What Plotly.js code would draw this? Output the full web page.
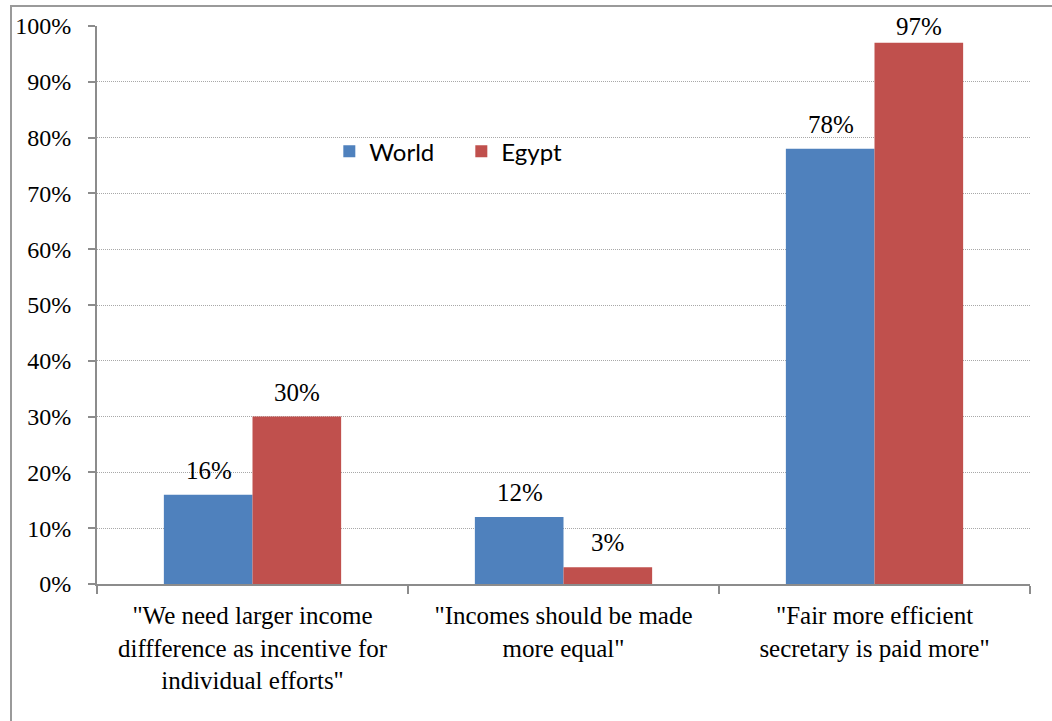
<!DOCTYPE html>
<html>
<head>
<meta charset="utf-8">
<script src="https://cdn.plot.ly/plotly-3.0.1.min.js"></script>
<style>
  html, body { margin: 0; padding: 0; background: #fff; overflow: hidden; }
  #frame { position: absolute; left: 10px; top: 5px; width: 1100px; height: 800px;
           border: 2px solid #9a9a9a; box-sizing: border-box; pointer-events: none; }
  #chart { position: absolute; left: 0; top: 0; width: 1052px; height: 721px; }
</style>
</head>
<body>
<div id="chart"></div>
<div id="frame"></div>
<script>
// Survey statements on income inequality
const categories = [
  '"We need larger income<br>diffference as incentive for<br>individual efforts"',
  '"Incomes should be made<br>more equal"',
  '"Fair more efficient<br>secretary is paid more"'
];
const worldValues = [0.16, 0.12, 0.78];
const egyptValues = [0.30, 0.03, 0.97];
const seriesNames = ['World', 'Egypt'];
const seriesColors = ['#4F81BD', '#C0504D'];
const yTickVals = [0, 0.1, 0.2, 0.3, 0.4, 0.5, 0.6, 0.7, 0.8, 0.9, 1.0];
const yTickText = ['0%', '10%', '20%', '30%', '40%', '50%', '60%', '70%', '80%', '90%', '100%'];

const serif = 'Times New Roman';

const traces = [worldValues, egyptValues].map((vals, i) => ({
  type: 'bar',
  name: seriesNames[i],
  x: categories,
  y: vals,
  marker: { color: seriesColors[i], line: { width: 0 } },
  hoverinfo: 'skip'
}));

// value labels above each bar; labels that would run past the top
// of the plot area are kept inside it
const barShift = 44;
const annotations = [];
[worldValues, egyptValues].forEach((vals, i) => {
  vals.forEach((v, j) => {
    const nearTop = v > 0.92;
    annotations.push({
      x: categories[j], y: nearTop ? 1 : v, xref: 'x', yref: 'y',
      text: Math.round(v * 100) + '%',
      showarrow: false, yanchor: nearTop ? 'middle' : 'bottom',
      xshift: i === 0 ? -barShift : barShift, yshift: nearTop ? 0 : 9,
      font: { family: serif, size: 25, color: '#000' }
    });
  });
});

const layout = {
  width: 1052, height: 721,
  margin: { l: 97, r: 22, t: 26, b: 137 },
  paper_bgcolor: 'rgba(0,0,0,0)',
  plot_bgcolor: '#fff',
  barmode: 'group',
  bargap: 0.43,
  bargroupgap: 0,
  showlegend: true,
  legend: {
    orientation: 'h', x: 0.249, y: 0.775, xanchor: 'left', yanchor: 'middle',
    font: { family: 'Lato', size: 24, color: '#000' },
    bgcolor: 'rgba(0,0,0,0)', itemwidth: 30, tracegroupgap: 0,
    entrywidth: 87
  },
  xaxis: {
    type: 'category',
    showline: true, linecolor: '#8c8c8c', linewidth: 2,
    ticks: 'outside', tickson: 'boundaries', ticklen: 8, tickcolor: '#8c8c8c', tickwidth: 2,
    showgrid: false, zeroline: false,
    tickfont: { family: serif, size: 25, color: '#000' },
    ticklabelstandoff: 8
  },
  yaxis: {
    range: [0, 1], tickvals: yTickVals, ticktext: yTickText,
    showline: true, linecolor: '#8c8c8c', linewidth: 2,
    ticks: 'outside', ticklen: 7, tickcolor: '#8c8c8c', tickwidth: 2,
    showgrid: true, gridcolor: '#a8a8a8', gridwidth: 1, griddash: '1px,1px',
    zeroline: false,
    tickfont: { family: serif, size: 24, color: '#000' },
    ticklabelstandoff: 12
  },
  annotations: annotations
};

Plotly.newPlot('chart', traces, layout, { displayModeBar: false, staticPlot: true });
</script>
</body>
</html>
